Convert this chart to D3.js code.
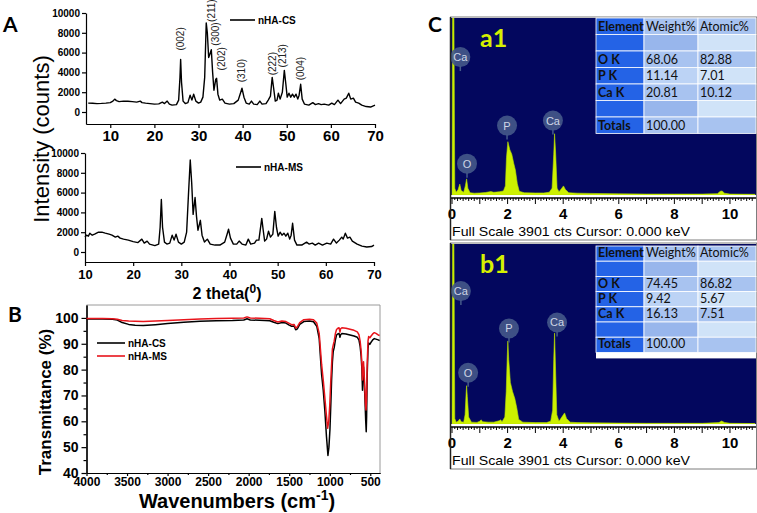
<!DOCTYPE html>
<html>
<head>
<meta charset="utf-8">
<script src="https://cdn.jsdelivr.net/npm/d3@7"></script>
<style>
  body { margin: 0; background: #fff; }
  svg { display: block; font-family: "Liberation Sans", Arial, sans-serif; }
</style>
</head>
<body>
<svg id="fig" width="757" height="513"></svg>
<script>
// ---- XRD (2 theta, counts) ----
const xrdTicksX = [10, 20, 30, 40, 50, 60, 70];
const xrdTicksY = [0, 2000, 4000, 6000, 8000, 10000];

const xrdCS = [
  [5, 900], [6, 880], [7, 850], [8, 870], [9, 900], [10, 950], [10.6, 1100], [11, 1300], [11.4, 1150],
  [12, 1050], [13, 1100], [14, 1080], [15, 1050], [16, 1000], [16.8, 1100], [17.2, 950], [18, 900],
  [19, 850], [20, 800], [21, 820], [21.8, 1000], [22.3, 850], [22.9, 1100], [23.4, 800], [24, 700],
  [25, 750], [25.5, 1200], [25.8, 3500], [25.95, 5300], [26.15, 3000], [26.5, 1100], [27, 850],
  [27.6, 950], [28.1, 1700], [28.5, 1200], [28.9, 1800], [29.4, 1100], [30, 900], [30.5, 1000],
  [31, 1500], [31.4, 3500], [31.75, 9000], [32.0, 8000], [32.3, 5500], [32.55, 5800], [32.9, 6300],
  [33.2, 4000], [33.5, 2200], [33.9, 3300], [34.1, 3400], [34.4, 1800], [34.8, 1200], [35.4, 1300],
  [36, 900], [37, 800], [38, 850], [39, 1200], [39.5, 1900], [39.85, 2400], [40.3, 1500], [40.8, 900],
  [41.5, 800], [42, 1100], [42.5, 800], [43.3, 750], [43.9, 1100], [44.4, 800], [45.3, 850],
  [45.8, 1200], [46.3, 1600], [46.7, 3500], [47.0, 2500], [47.4, 1100], [47.8, 1200], [48.1, 1900],
  [48.5, 1300], [49.0, 2000], [49.45, 4200], [49.8, 2800], [50.1, 1500], [50.5, 1900], [50.9, 1500],
  [51.3, 1800], [51.7, 1500], [52.1, 1800], [52.5, 1300], [52.8, 1700], [53.15, 2800], [53.5, 1300],
  [54, 800], [55, 700], [55.9, 950], [56.5, 750], [57.2, 850], [57.8, 750], [58.5, 800], [59.5, 700],
  [60.2, 900], [60.8, 750], [61.6, 1200], [62.2, 850], [63, 1300], [63.5, 1400], [64.05, 1900],
  [64.5, 1300], [65.1, 1400], [65.6, 1000], [66.3, 900], [67, 700], [68, 550], [69, 500], [69.5, 600],
  [70, 700]
];

const xrdMS = [
  [10, 1500], [10.3, 1700], [10.7, 1600], [11, 1900], [11.5, 1700], [12, 1800], [12.8, 2000],
  [13.5, 2000], [14.2, 1900], [15, 1800], [15.6, 1700], [16.3, 1500], [16.8, 1600], [17.3, 1400],
  [18, 1300], [19, 1200], [20, 1050], [21, 950], [21.8, 1300], [22.3, 900], [22.9, 1100], [23.4, 800],
  [24.5, 650], [25.3, 800], [25.6, 2500], [25.85, 5300], [26.1, 2500], [26.5, 1000], [27, 800],
  [27.6, 900], [28.1, 1700], [28.5, 1200], [28.9, 1800], [29.4, 1000], [30, 800], [30.6, 1000],
  [31.1, 2000], [31.5, 6000], [31.85, 9300], [32.15, 7000], [32.45, 3800], [32.85, 5500],
  [33.15, 3600], [33.45, 2200], [33.95, 3200], [34.3, 1700], [34.8, 1000], [35.4, 1300], [36, 800],
  [37, 700], [38, 700], [39, 1000], [39.5, 1800], [39.8, 2300], [40.2, 1400], [40.8, 800], [41.5, 800],
  [42, 1100], [42.6, 800], [43.4, 700], [43.9, 1300], [44.4, 800], [45.2, 900], [45.6, 1200],
  [46.1, 1200], [46.7, 3400], [47.0, 2200], [47.3, 1100], [47.7, 1300], [48.1, 2100], [48.5, 1500],
  [49.0, 1800], [49.4, 4100], [49.75, 2500], [50.1, 1600], [50.5, 2000], [50.9, 1700], [51.3, 1900],
  [51.7, 1600], [52.1, 1900], [52.5, 1300], [52.8, 1700], [53.1, 2900], [53.5, 1200], [54, 700],
  [55, 700], [56, 1000], [56.5, 800], [57.2, 900], [57.8, 700], [58.5, 900], [59.3, 700], [60.2, 900],
  [61, 800], [61.6, 1300], [62.2, 900], [62.8, 1200], [63.3, 1500], [63.6, 1300], [64.05, 1900],
  [64.5, 1400], [65, 1500], [65.5, 1100], [66.5, 800], [67.5, 600], [68.5, 500], [69.5, 550], [70, 700]
];

const hklLabels = ['(002)', '(211)', '(300)', '(202)', '(310)', '(222)', '(213)', '(004)'];
const hklTheta = [25.9, 33.0, 33.9, 35.3, 39.8, 46.7, 49.1, 53.2];
const hklCounts = [6200, 9100, 6700, 4200, 3000, 3700, 4500, 3200];

// ---- FTIR (wavenumber, transmittance %) ----
const ftirTicksX = [4000, 3500, 3000, 2500, 2000, 1500, 1000, 500];
const ftirTicksY = [40, 50, 60, 70, 80, 90, 100];

const ftirCS = [
  [4000, 99.6], [3800, 99.6], [3680, 99.5], [3620, 99.2], [3560, 98.2], [3480, 97.5], [3400, 97.2],
  [3300, 97.1], [3150, 97.4], [3000, 97.8], [2800, 98.3], [2600, 98.7], [2400, 98.9], [2200, 99.0],
  [2060, 99.2], [2020, 99.7], [1980, 99.2], [1800, 99.0], [1740, 98.9], [1690, 98.3], [1640, 97.8],
  [1590, 98.2], [1540, 98.0], [1500, 97.2], [1470, 96.8], [1440, 96.9], [1420, 95.4], [1400, 95.8],
  [1370, 97.5], [1320, 98.6], [1250, 98.8], [1200, 98.5], [1160, 96.8], [1130, 92], [1100, 78],
  [1080, 72], [1060, 64], [1040, 54], [1022, 46.8], [1010, 50], [997, 57], [985, 68], [977, 76],
  [967, 83], [957, 87], [945, 88.5], [930, 91.5], [916, 93.4], [900, 93.8], [885, 94.0], [874, 92.5],
  [866, 93.5], [850, 94.0], [800, 93.8], [750, 93.4], [700, 93.0], [660, 92.5], [640, 91.5], [625, 89],
  [612, 85], [603, 80], [596, 72], [590, 78], [583, 81], [575, 76], [565, 68], [556, 60], [550, 56],
  [545, 62], [538, 78], [528, 88], [520, 90.3], [505, 89.8], [490, 90.6], [470, 91.5], [450, 92.0],
  [430, 91.8], [402, 91.5], [385, 91.2]
];

const ftirMS = [
  [4000, 99.8], [3800, 99.8], [3680, 99.7], [3620, 99.5], [3560, 99.0], [3480, 98.8], [3400, 98.7],
  [3300, 98.6], [3150, 98.8], [3000, 99.0], [2800, 99.3], [2600, 99.6], [2400, 99.8], [2200, 99.9],
  [2060, 100.0], [2020, 100.4], [1980, 100.0], [1800, 99.8], [1740, 99.7], [1690, 99.0], [1640, 98.4],
  [1590, 98.8], [1540, 98.6], [1500, 97.9], [1470, 97.4], [1440, 97.5], [1420, 96.1], [1400, 96.5],
  [1370, 98.2], [1320, 99.3], [1250, 99.5], [1200, 99.3], [1160, 98], [1130, 94], [1100, 82],
  [1080, 76], [1060, 69], [1040, 62], [1026, 57.3], [1012, 60], [1000, 66], [988, 75], [977, 82],
  [967, 88], [957, 89.5], [945, 91], [930, 94], [916, 95.5], [900, 96.0], [885, 96.2], [874, 94.5],
  [866, 95.8], [850, 96.2], [800, 96.0], [750, 95.6], [700, 95.2], [660, 94.6], [640, 93.5], [625, 91],
  [612, 87], [603, 82], [597, 76], [590, 80], [583, 83], [575, 78], [565, 71], [558, 66], [553, 64.4],
  [547, 68], [538, 82], [528, 91], [520, 92.8], [505, 92.3], [490, 93.0], [470, 93.8], [450, 94.3],
  [430, 94.0], [402, 93.4], [385, 93.2]
];

// ---- EDS spectra (keV, counts) ----
const edsTicks = [0, 2, 4, 6, 8, 10];
const fullScale = 3901;

const edsA1 = [
  [0, 0], [0.02, 3901], [0.07, 3901], [0.1, 150], [0.15, 60], [0.22, 120], [0.28, 240], [0.33, 100],
  [0.42, 60], [0.48, 200], [0.525, 355], [0.57, 150], [0.65, 50], [0.8, 40], [1.0, 45], [1.2, 55],
  [1.4, 75], [1.5, 60], [1.7, 70], [1.85, 90], [1.92, 200], [1.96, 820], [2.01, 1175], [2.08, 1000],
  [2.15, 900], [2.22, 700], [2.28, 550], [2.35, 250], [2.42, 80], [2.6, 50], [3.0, 45], [3.3, 45],
  [3.5, 60], [3.6, 150], [3.66, 900], [3.69, 1350], [3.73, 900], [3.78, 150], [3.85, 70], [3.95, 150],
  [4.01, 200], [4.08, 120], [4.2, 50], [4.5, 40], [5, 35], [6, 25], [7, 20], [8, 20], [9, 20],
  [9.55, 30], [9.65, 80], [9.72, 90], [9.8, 40], [10, 20], [10.9, 15]
];

const edsB1 = [
  [0, 0], [0.02, 3901], [0.07, 3901], [0.1, 120], [0.15, 40], [0.22, 60], [0.28, 110], [0.33, 50],
  [0.42, 40], [0.47, 200], [0.51, 700], [0.525, 830], [0.55, 600], [0.6, 150], [0.7, 40], [0.9, 35],
  [1.0, 60], [1.05, 90], [1.1, 50], [1.3, 40], [1.5, 40], [1.7, 70], [1.75, 90], [1.8, 50], [1.9, 150],
  [1.95, 700], [1.99, 1500], [2.01, 1800], [2.04, 1400], [2.1, 900], [2.18, 700], [2.26, 550],
  [2.33, 350], [2.4, 100], [2.55, 40], [3.0, 30], [3.4, 30], [3.55, 60], [3.62, 300], [3.66, 1400],
  [3.69, 1970], [3.72, 1300], [3.77, 200], [3.85, 60], [3.95, 150], [4.05, 240], [4.12, 120],
  [4.25, 40], [4.5, 30], [5, 25], [6, 20], [7, 15], [8, 15], [9, 15], [9.6, 30], [9.7, 65], [9.8, 35],
  [10, 15], [10.9, 10]
];

const badgeElA1 = ['Ca', 'P', 'Ca', 'O'];
const badgeKeVA1 = [0.3, 1.98, 3.63, 0.54];
const badgeCtsA1 = [3040, 1530, 1640, 690];
const badgeElB1 = ['Ca', 'P', 'Ca', 'O'];
const badgeKeVB1 = [0.32, 2.05, 3.78, 0.58];
const badgeCtsB1 = [2880, 2070, 2200, 1110];

const tableElements = ['Element', '', 'O K', 'P K', 'Ca K', '', 'Totals'];
const weightA1 = ['Weight%', '', '68.06', '11.14', '20.81', '', '100.00'];
const atomicA1 = ['Atomic%', '', '82.88', '7.01', '10.12', '', ''];
const weightB1 = ['Weight%', '', '74.45', '9.42', '16.13', '', '100.00'];
const atomicB1 = ['Atomic%', '', '86.82', '5.67', '7.51', '', ''];

const svg = d3.select('#fig');
const FONT = '"Liberation Sans", Arial, sans-serif';
const TABLE_FONT = 'Lato, "Open Sans", sans-serif';
const plain = d3.format('d');

function styleAxis(g, size) {
  g.attr('font-size', size).attr('font-family', FONT).attr('font-weight', 'bold');
  g.selectAll('path, line').attr('stroke', '#000').attr('stroke-width', 1.2);
  g.selectAll('text').attr('fill', '#000');
}

// ===================== Panel A =====================
function xrdPanel(data, xs, ys, axisY, xFont, xPad, legendX, legendY, label) {
  const g = svg.append('g');
  g.append('g')
    .attr('transform', `translate(0,${axisY})`)
    .call(d3.axisBottom(xs).tickValues(xrdTicksX).tickFormat(plain)
      .tickSize(4).tickSizeOuter(0).tickPadding(xPad))
    .call(styleAxis, xFont);
  g.append('g')
    .attr('transform', `translate(${xs.range()[0]},0)`)
    .call(d3.axisLeft(ys).tickValues(xrdTicksY).tickFormat(plain)
      .tickSize(4).tickSizeOuter(0).tickPadding(2))
    .call(styleAxis, 10);

  g.append('path')
    .datum(data)
    .attr('fill', 'none')
    .attr('stroke', '#000')
    .attr('stroke-width', 1.4)
    .attr('stroke-linejoin', 'round')
    .attr('d', d3.line().x(d => xs(d[0])).y(d => ys(d[1])));

  g.append('line')
    .attr('x1', legendX).attr('x2', legendX + 25)
    .attr('y1', legendY).attr('y2', legendY)
    .attr('stroke', '#000').attr('stroke-width', 1.6);
  g.append('text')
    .attr('x', legendX + 28).attr('y', legendY + 3.5)
    .attr('font-size', 10).attr('font-weight', 'bold')
    .text(label);
  return g;
}

const xA1 = d3.scaleLinear().domain([4.5, 70]).range([86, 375]);
const yA1 = d3.scaleLinear().domain([-1212, 10000]).range([124, 13]);
const gA1 = xrdPanel(xrdCS, xA1, yA1, 124, 15, 2, 230, 20, 'nHA-CS');

gA1.selectAll('.hkl')
  .data(hklLabels)
  .enter().append('text')
    .attr('class', 'hkl')
    .attr('transform', (d, i) => `translate(${xA1(hklTheta[i])},${yA1(hklCounts[i])}) rotate(-90)`)
    .attr('dominant-baseline', 'central')
    .attr('font-size', 10)
    .attr('fill', '#222')
    .text(d => d);

const xA2 = d3.scaleLinear().domain([10, 70]).range([85, 374]);
const yA2 = d3.scaleLinear().domain([-1010, 10000]).range([262, 153]);
xrdPanel(xrdMS, xA2, yA2, 262, 13, 4, 236, 167, 'nHA-MS');

svg.append('text')
  .attr('transform', 'translate(49,139) rotate(-90)')
  .attr('text-anchor', 'middle')
  .attr('font-size', 22)
  .text('Intensity (counts)');

const thetaLabel = svg.append('text')
  .attr('x', 227).attr('y', 299)
  .attr('text-anchor', 'middle')
  .attr('font-size', 16).attr('font-weight', 'bold');
thetaLabel.append('tspan').text('2 theta(');
thetaLabel.append('tspan').attr('font-size', 12).attr('dy', -6).text('0');
thetaLabel.append('tspan').attr('dy', 6).text(')');

// ===================== Panel B =====================
const xB = d3.scaleLinear().domain([4000, 380]).range([86.5, 380]);
const yB = d3.scaleLinear().domain([40, 105]).range([473, 305]);
const gB = svg.append('g');

gB.append('line').attr('x1', 86.5).attr('x2', 380).attr('y1', 305).attr('y2', 305)
  .attr('stroke', '#9a9a9a').attr('stroke-width', 1);
gB.append('line').attr('x1', 380).attr('x2', 380).attr('y1', 305).attr('y2', 473)
  .attr('stroke', '#9a9a9a').attr('stroke-width', 1);

gB.append('g')
  .attr('transform', 'translate(0,473)')
  .call(d3.axisBottom(xB).tickValues(d3.range(3750, 400, -500)).tickSize(2).tickSizeOuter(0).tickFormat(''))
  .call(styleAxis, 12);
gB.append('g')
  .attr('transform', 'translate(0,473)')
  .call(d3.axisBottom(xB).tickValues(ftirTicksX).tickFormat(plain)
    .tickSize(3).tickSizeOuter(0).tickPadding(1))
  .call(styleAxis, 12);
gB.append('g')
  .attr('transform', 'translate(86.5,0)')
  .call(d3.axisLeft(yB).tickValues(d3.range(45, 105, 10)).tickSize(3).tickSizeOuter(0).tickFormat(''))
  .call(styleAxis, 14);
gB.append('g')
  .attr('transform', 'translate(86.5,0)')
  .call(d3.axisLeft(yB).tickValues(ftirTicksY).tickFormat(plain)
    .tickSize(5).tickSizeOuter(0).tickPadding(3))
  .call(styleAxis, 14);

const ftirLine = d3.line().x(d => xB(d[0])).y(d => yB(d[1]));
gB.append('path').datum(ftirCS)
  .attr('fill', 'none').attr('stroke', '#000').attr('stroke-width', 1.5)
  .attr('stroke-linejoin', 'round').attr('d', ftirLine);
gB.append('path').datum(ftirMS)
  .attr('fill', 'none').attr('stroke', '#e8141b').attr('stroke-width', 1.5)
  .attr('stroke-linejoin', 'round').attr('d', ftirLine);

[['nHA-CS', '#000', 343], ['nHA-MS', '#e8141b', 356]].forEach(([name, col, ly]) => {
  gB.append('line').attr('x1', 97).attr('x2', 125).attr('y1', ly).attr('y2', ly)
    .attr('stroke', col).attr('stroke-width', 1.6);
  gB.append('text').attr('x', 128).attr('y', ly + 3.5)
    .attr('font-size', 10).attr('font-weight', 'bold').text(name);
});

svg.append('text')
  .attr('transform', 'translate(51,402) rotate(-90)')
  .attr('text-anchor', 'middle')
  .attr('font-size', 17).attr('font-weight', 'bold')
  .text('Transmittance (%)');

const waveLabel = svg.append('text')
  .attr('x', 237).attr('y', 508)
  .attr('text-anchor', 'middle')
  .attr('font-size', 20).attr('font-weight', 'bold');
waveLabel.append('tspan').text('Wavenumbers (cm');
waveLabel.append('tspan').attr('font-size', 14).attr('dy', -8).text('-1');
waveLabel.append('tspan').attr('dy', 8).text(')');

// ===================== Panel C =====================
function edsPanel(id, top, navyH, data, tag, badgeEl, badgeKeV, badgeCts, weights, atomics, rowH, tableTop, tableGap) {
  const g = svg.append('g');
  const navyTop = top + 1;
  const navyBottom = navyTop + navyH;
  const xE = d3.scaleLinear().domain([0, 10.9]).range([452, 755]);
  const yE = d3.scaleLinear().domain([0, fullScale]).range([navyBottom, navyTop]);

  g.append('rect')
    .attr('x', 450.5).attr('y', top).attr('width', 306).attr('height', navyH + 46)
    .attr('fill', '#fff').attr('stroke', '#7d7d7d').attr('stroke-width', 1);
  g.append('rect')
    .attr('x', 451).attr('y', navyTop).attr('width', 305).attr('height', navyH)
    .attr('fill', '#03075e');

  svg.append('clipPath').attr('id', id)
    .append('rect').attr('x', 451).attr('y', navyTop).attr('width', 305).attr('height', navyH);

  g.append('path')
    .datum(data)
    .attr('clip-path', `url(#${id})`)
    .attr('fill', '#cdf000')
    .attr('stroke', '#b8e000')
    .attr('stroke-width', 0.6)
    .attr('d', d3.area().x(d => xE(d[0])).y0(navyBottom).y1(d => yE(d[1])));

  // element badges
  const badges = g.append('g').attr('clip-path', `url(#${id})`);
  badgeEl.forEach((el, i) => {
    const cx = xE(badgeKeV[i]);
    const cy = yE(badgeCts[i]);
    badges.append('line').attr('x1', cx).attr('x2', cx).attr('y1', cy + 9).attr('y2', cy + 14)
      .attr('stroke', '#45598a').attr('stroke-width', 1.5);
    badges.append('circle').attr('cx', cx).attr('cy', cy).attr('r', 10)
      .attr('fill', '#45598a').attr('fill-opacity', 0.9);
    badges.append('text').attr('x', cx).attr('y', cy + 4)
      .attr('text-anchor', 'middle').attr('font-size', 11)
      .attr('fill', '#cfd6e6').text(el);
  });

  // results table
  const cols = [596, 644, 698, 756];
  const atomicFill = ['#a8c3f0', '#d0e3f8', '#a8c3f0', '#d0e3f8', '#a8c3f0', '#d0e3f8', '#a8c3f0'];
  const weightFill = ['#a8c3f0', '#98b6ec', '#a8c3f0', '#bcd3f5', '#a8c3f0', '#98b6ec', '#a8c3f0'];
  if (tableGap > 0) {
    g.append('rect').attr('x', cols[0]).attr('y', tableTop)
      .attr('width', cols[3] - cols[0]).attr('height', rowH * 7 + tableGap).attr('fill', '#fff');
  }
  const cells = g.append('g');
  const labels = g.append('g')
    .attr('font-family', TABLE_FONT).attr('font-size', 12.5).attr('fill', '#111');
  tableElements.forEach((el, r) => {
    const ry = tableTop + r * rowH;
    const row = [[el, '#2463e6'], [weights[r], weightFill[r]], [atomics[r], atomicFill[r]]];
    row.forEach(([txt, fill], c) => {
      cells.append('rect')
        .attr('x', cols[c]).attr('y', ry)
        .attr('width', cols[c + 1] - cols[c]).attr('height', rowH)
        .attr('fill', fill).attr('stroke', '#fff').attr('stroke-width', 0.8);
      if (txt) {
        labels.append('text')
          .attr('x', cols[c] + 2).attr('y', ry + rowH - 4)
          .attr('font-weight', c === 0 ? 'bold' : 'normal')
          .text(txt);
      }
    });
  });

  g.append('text')
    .attr('x', 480).attr('y', navyTop + 29)
    .attr('font-family', TABLE_FONT)
    .attr('font-size', 25).attr('font-weight', 'bold')
    .attr('fill', '#d6f000')
    .text(tag);

  // keV ruler
  const axisY = navyBottom + 3;
  g.append('line').attr('x1', 451).attr('x2', 756).attr('y1', axisY).attr('y2', axisY)
    .attr('stroke', '#000').attr('stroke-width', 1.5);
  g.selectAll(null)
    .data(d3.range(0, 109).map(i => i / 10))
    .enter().append('line')
      .attr('x1', d => xE(d)).attr('x2', d => xE(d))
      .attr('y1', axisY)
      .attr('y2', (d, i) => axisY + (i % 10 === 0 ? 6 : (i % 2 === 0 ? 3 : 2)))
      .attr('stroke', '#000').attr('stroke-width', 1);
  g.selectAll(null)
    .data(edsTicks)
    .enter().append('text')
      .attr('x', d => xE(d)).attr('y', navyBottom + 24)
      .attr('text-anchor', 'middle')
      .attr('font-size', 15).attr('font-weight', 'bold')
      .text(d => d);
  g.append('text')
    .attr('x', 452).attr('y', navyBottom + 41)
    .attr('font-size', 13.5)
    .attr('textLength', 238).attr('lengthAdjust', 'spacingAndGlyphs')
    .text(`Full Scale ${fullScale} cts  Cursor: 0.000 keV`);
  g.append('line').attr('x1', 450.5).attr('x2', 450.5).attr('y1', top).attr('y2', navyBottom + 45)
    .attr('stroke', '#222').attr('stroke-width', 1.5);
}

edsPanel('clipA1', 17, 177, edsA1, 'a1', badgeElA1, badgeKeVA1, badgeCtsA1, weightA1, atomicA1, 16.5, 18, 0);
edsPanel('clipB1', 243, 180, edsB1, 'b1', badgeElB1, badgeKeVB1, badgeCtsB1, weightB1, atomicB1, 15.2, 246, 6);

// panel letters
[['A', 3, 32], ['B', 8, 322], ['C', 428, 32]].forEach(([t, x, y]) => {
  svg.append('text').attr('x', x).attr('y', y)
    .attr('font-family', TABLE_FONT)
    .attr('font-size', 21).attr('font-weight', 'bold').text(t);
});
</script>
</body>
</html>
